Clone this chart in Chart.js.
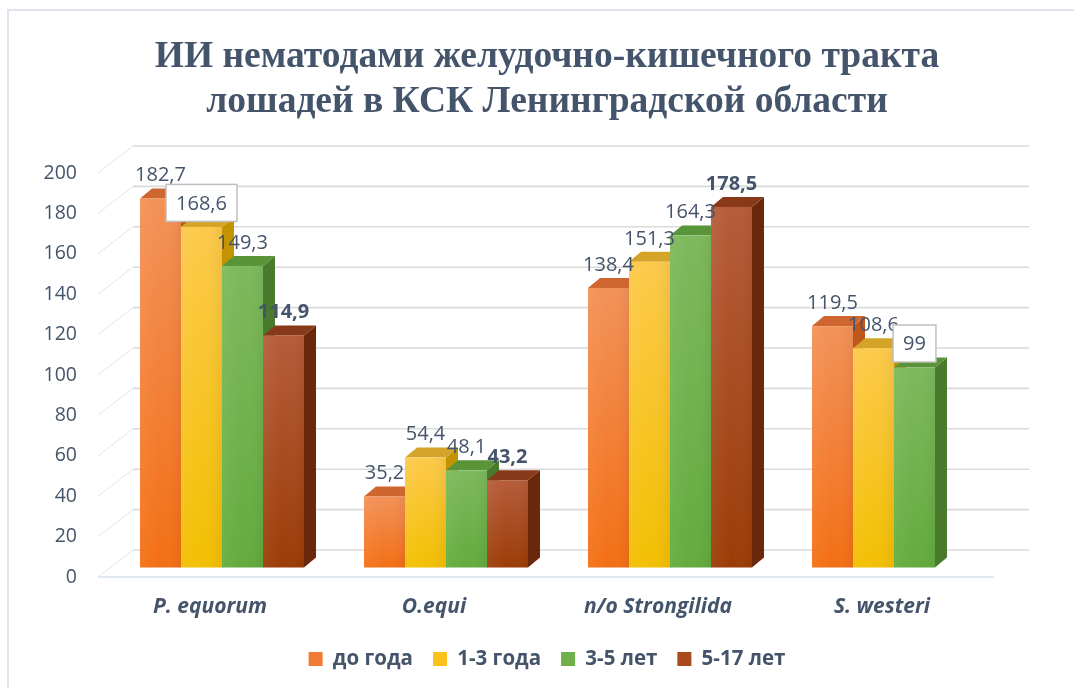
<!DOCTYPE html>
<html><head><meta charset="utf-8">
<script src="https://cdn.jsdelivr.net/npm/chart.js@4"></script>
<style>
html,body{margin:0;padding:0;background:#fff}
#wrap{position:relative;width:1074px;height:688px}
canvas{display:block}
</style></head>
<body><div id="wrap"><canvas id="c" width="1074" height="688"></canvas></div>
<script>
// ---- data ----
const categories = ['P. equorum', 'O.equi', 'п/о Strongilida', 'S. westeri'];
const seriesNames = ['до года', '1-3 года', '3-5 лет', '5-17 лет'];
const valuesUpToYear = [182.7, 35.2, 138.4, 119.5];
const values1to3 = [168.6, 54.4, 151.3, 108.6];
const values3to5 = [149.3, 48.1, 164.3, 99];
const values5to17 = [114.9, 43.2, 178.5, null];
const yTickValues = [0, 20, 40, 60, 80, 100, 120, 140, 160, 180, 200];
const titleLines = ['ИИ нематодами желудочно-кишечного тракта', 'лошадей в КСК Ленинградской области'];

// ---- styles ----
const TEXT = '#44546a';
const palette = [
  {solid:'#f07b35', top:'#f39158', bottom:'#f36f14', side:'#bf561b', cap:'#cf6630'},
  {solid:'#fcc21c', top:'#fdc94a', bottom:'#f2bf00', side:'#c39400', cap:'#d3a428'},
  {solid:'#70b04a', top:'#7db95c', bottom:'#63ab3d', side:'#497a2d', cap:'#5a9439'},
  {solid:'#a84a1c', top:'#b65c3a', bottom:'#9b3c06', side:'#6a2709', cap:'#88391a'}
];
const boldSeries = [false, false, false, true];
const boxedLabels = [[1,0],[2,3]]; // [series, category]
const FRONT_DX = 12, FRONT_DY = -9.5;   // bar front plane offset
const DEPTH_DX = 12, DEPTH_DY = -10;    // bar depth
const WALL_DX = 35, WALL_DY = -27;      // back wall offset

const fmt = v => String(v).replace('.', ',');

const scene = {
  id: 'scene',
  beforeDatasetsDraw(chart) {
    const ctx = chart.ctx, ca = chart.chartArea, ys = chart.scales.y;
    ctx.save();
    yTickValues.forEach(v => {
      const py = ys.getPixelForValue(v);
      ctx.strokeStyle = '#dadada';
      ctx.lineWidth = 1.6;
      ctx.beginPath();
      ctx.moveTo(ca.left + WALL_DX, py + WALL_DY);
      ctx.lineTo(ca.right + WALL_DX, py + WALL_DY);
      ctx.stroke();
      ctx.strokeStyle = '#e4e4e4';
      ctx.lineWidth = 1;
      ctx.beginPath();
      ctx.moveTo(ca.left, py);
      ctx.lineTo(ca.left + WALL_DX, py + WALL_DY);
      ctx.stroke();
    });
    const p0 = ys.getPixelForValue(0);
    ctx.strokeStyle = '#d9e0ea';
    ctx.lineWidth = 1.6;
    ctx.beginPath();
    ctx.moveTo(ca.left, p0);
    ctx.lineTo(ca.right, p0);
    ctx.stroke();

    const n = chart.data.labels.length;
    for (let j = 0; j < n; j++) {
      chart.data.datasets.forEach((ds, i) => {
        const v = ds.data[j];
        if (v === null || v === undefined) return;
        const el = chart.getDatasetMeta(i).data[j];
        const p = el.getProps(['x', 'y', 'base', 'width'], true);
        const l = p.x - p.width / 2 + FRONT_DX, r = p.x + p.width / 2 + FRONT_DX;
        const t = p.y + FRONT_DY, b = p.base + FRONT_DY;
        const c = palette[i];
        ctx.fillStyle = c.side;
        ctx.beginPath();
        ctx.moveTo(r, t); ctx.lineTo(r + DEPTH_DX, t + DEPTH_DY);
        ctx.lineTo(r + DEPTH_DX, b + DEPTH_DY); ctx.lineTo(r, b);
        ctx.closePath(); ctx.fill();
        ctx.fillStyle = c.cap;
        ctx.beginPath();
        ctx.moveTo(l, t); ctx.lineTo(l + DEPTH_DX, t + DEPTH_DY);
        ctx.lineTo(r + DEPTH_DX, t + DEPTH_DY); ctx.lineTo(r, t);
        ctx.closePath(); ctx.fill();
        const g = ctx.createLinearGradient(0, t, 0, b);
        g.addColorStop(0, c.top); g.addColorStop(1, c.bottom);
        ctx.fillStyle = g;
        ctx.fillRect(l, t, r - l, b - t);
        const h = ctx.createLinearGradient(l, 0, r, 0);
        h.addColorStop(0, 'rgba(255,255,255,0.06)');
        h.addColorStop(0.5, 'rgba(255,255,255,0)');
        h.addColorStop(1, 'rgba(0,0,0,0.05)');
        ctx.fillStyle = h;
        ctx.fillRect(l, t, r - l, b - t);
      });
    }
    ctx.restore();
    return false;
  },
  afterDraw(chart) {
    const ctx = chart.ctx;
    ctx.save();
    ctx.strokeStyle = '#dfe3eb';
    ctx.lineWidth = 2;
    ctx.beginPath();
    ctx.moveTo(8, 688); ctx.lineTo(8, 10); ctx.lineTo(1074, 10);
    ctx.stroke();
    ctx.textAlign = 'center';
    ctx.textBaseline = 'middle';
    chart.data.datasets.forEach((ds, i) => {
      ds.data.forEach((v, j) => {
        if (v === null || v === undefined) return;
        const el = chart.getDatasetMeta(i).data[j];
        const cx = el.x + FRONT_DX, cy = el.y + FRONT_DY - 24;
        ctx.font = (boldSeries[i] ? 'bold ' : '') + '20px "Open Sans"';
        const txt = fmt(v);
        const boxed = boxedLabels.some(bx => bx[0] === i && bx[1] === j);
        if (boxed) {
          const w = ctx.measureText(txt).width + 20, hgt = 37;
          ctx.fillStyle = '#ffffff';
          ctx.fillRect(cx - w / 2, cy - hgt / 2, w, hgt);
          ctx.strokeStyle = '#bfbfbf';
          ctx.lineWidth = 1.5;
          ctx.strokeRect(cx - w / 2, cy - hgt / 2, w, hgt);
        }
        ctx.fillStyle = TEXT;
        ctx.fillText(txt, cx, cy + 1);
      });
    });
    ctx.restore();
  }
};

const seriesValues = [valuesUpToYear, values1to3, values3to5, values5to17];

new Chart(document.getElementById('c'), {
  type: 'bar',
  data: {
    labels: categories,
    datasets: seriesNames.map((name, i) => ({
      label: name,
      data: seriesValues[i],
      backgroundColor: palette[i].solid,
      borderWidth: 0,
      categoryPercentage: 0.732,
      barPercentage: 1.0
    }))
  },
  options: {
    responsive: false,
    animation: false,
    layout: { padding: { top: 10, left: 20, right: 0, bottom: 8.75 } },
    plugins: {
      title: {
        display: true,
        text: titleLines,
        color: TEXT,
        font: { family: '"Liberation Serif"', size: 37.5, weight: 'bold', lineHeight: 1.2 },
        padding: { top: 25, bottom: 48 }
      },
      legend: {
        position: 'bottom',
        labels: {
          color: TEXT,
          boxWidth: 14,
          boxHeight: 14,
          padding: 20,
          font: { family: '"Open Sans"', size: 20.5, weight: 'bold' }
        }
      },
      tooltip: { enabled: false }
    },
    scales: {
      x: {
        grid: { display: false, drawTicks: false },
        border: { display: false },
        ticks: {
          color: TEXT,
          padding: 17.4,
          font: { family: '"Open Sans"', size: 21, weight: 'bold', style: 'italic' }
        },
        afterFit(s) { s.height = 51.75; }
      },
      y: {
        min: 0, max: 200,
        grid: { display: false, drawTicks: false },
        border: { display: false },
        afterBuildTicks(s) { s.ticks = yTickValues.map(v => ({ value: v })); },
        ticks: {
          color: TEXT,
          padding: 21,
          font: { family: '"Open Sans"', size: 19.5 }
        },
        afterFit(s) { s.width = 78; }
      },
      yRight: {
        position: 'right',
        display: true,
        grid: { display: false, drawTicks: false },
        border: { display: false },
        ticks: { display: false },
        afterFit(s) { s.width = 80; }
      }
    }
  },
  plugins: [scene]
});
</script>
</body></html>
